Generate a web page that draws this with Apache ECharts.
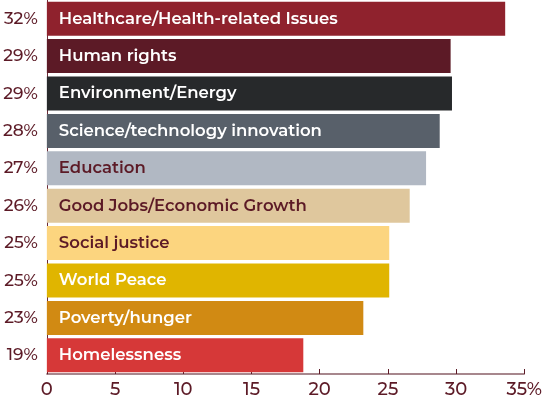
<!DOCTYPE html>
<html>
<head>
<meta charset="utf-8">
<script src="https://cdn.jsdelivr.net/npm/echarts@6/dist/echarts.min.js"></script>
<style>html,body{margin:0;padding:0;background:#fff;}#c{width:545px;height:403px;}</style>
</head>
<body>
<div id="c"></div>
<script>
var categories = ["Healthcare/Health-related Issues","Human rights","Environment/Energy","Science/technology innovation","Education","Good Jobs/Economic Growth","Social justice","World Peace","Poverty/hunger","Homelessness"];
var values = [33.6, 29.6, 29.7, 28.8, 27.8, 26.6, 25.1, 25.1, 23.2, 18.8];
var pctLabels = ["32%","29%","29%","28%","27%","26%","25%","25%","23%","19%"];
var barColors = ["#8f222d","#5c1a26","#27292b","#58606a","#b1b8c3","#dfc79d","#fcd57f","#e0b500","#d18a13","#d63838"];
var labelColors = ["#ffffff","#ffffff","#ffffff","#ffffff","#5c1a26","#5c1a26","#5c1a26","#ffffff","#ffffff","#ffffff"];
var xTicks = ["0","5","10","15","20","25","30","35%"];

var font = "Montserrat, 'Noto Sans', sans-serif";
var chart = echarts.init(document.getElementById('c'));
chart.setOption({
  animation: false,
  grid: {left: 45, right: 20, top: 0, bottom: 29, containLabel: false},
  xAxis: {
    type: 'value', min: 0, max: 35, interval: 5,
    axisLine: {show: true, lineStyle: {color: '#8a6068', width: 1.5}},
    axisTick: {show: true, inside: true, length: 5, lineStyle: {color: '#5c1a26', width: 1}},
    splitLine: {show: false},
    axisLabel: {
      color: '#5c1a26', fontSize: 18, fontFamily: font, fontWeight: 500, margin: 7,
      formatter: function (v) { return xTicks[Math.round(v / 5)]; }
    }
  },
  yAxis: {
    type: 'category', inverse: true, data: categories,
    axisLine: {show: true, lineStyle: {color: '#6b2a36', width: 1}},
    axisTick: {show: false},
    axisLabel: {
      color: '#5c1a26', fontSize: 17, fontFamily: font, fontWeight: 500, margin: 9,
      formatter: function (v, i) { return pctLabels[i]; }
    }
  },
  series: [{
    type: 'bar',
    barCategoryGap: '9%',
    data: values.map(function (v, i) {
      return {
        value: v,
        itemStyle: {color: barColors[i]},
        label: {color: labelColors[i]}
      };
    }),
    label: {
      show: true, position: 'insideLeft', distance: 12,
      fontSize: 16.5, fontWeight: 600, fontFamily: font,
      formatter: function (p) { return categories[p.dataIndex]; }
    }
  }]
});
</script>
</body>
</html>
